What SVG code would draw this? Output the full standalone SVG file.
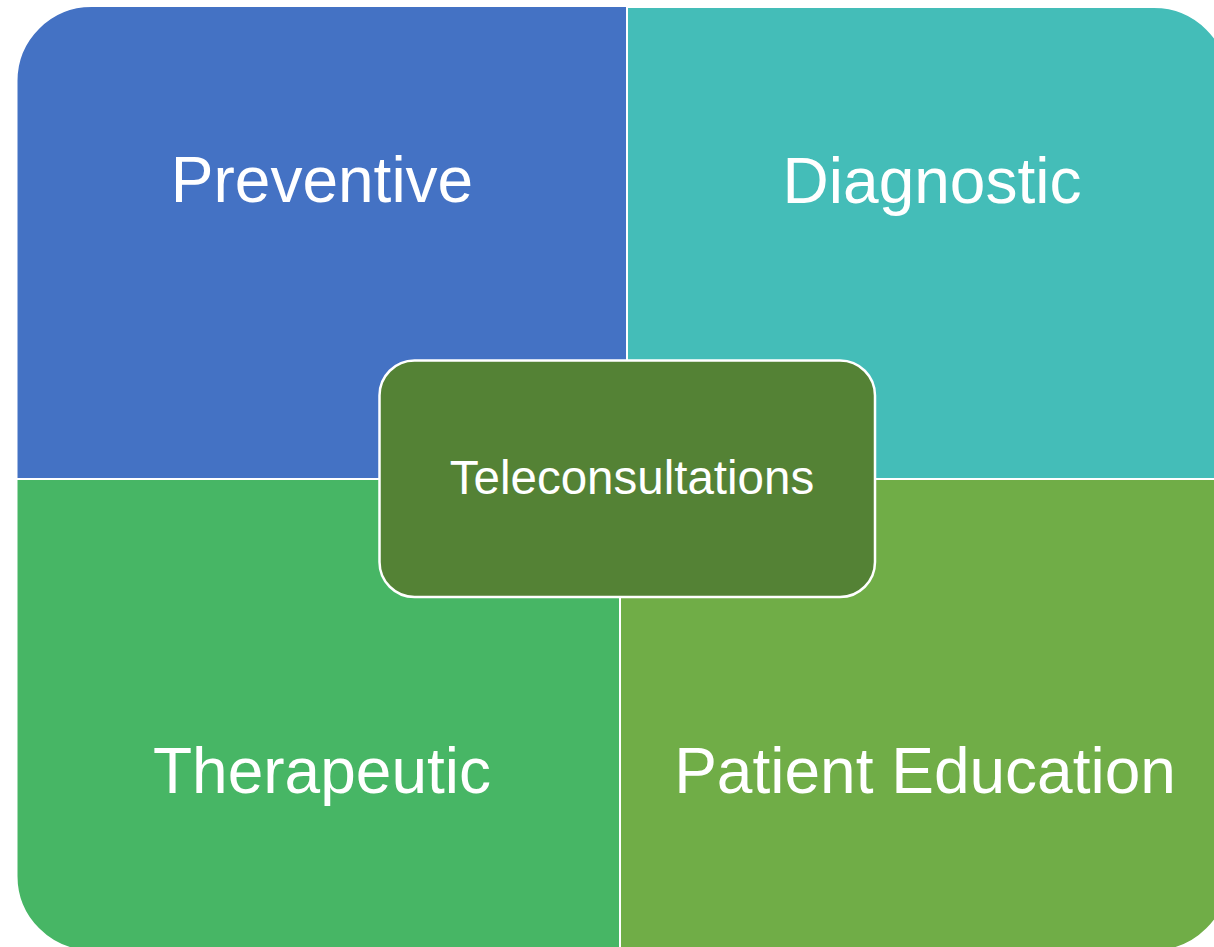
<svg xmlns="http://www.w3.org/2000/svg" width="1214" height="947" viewBox="0 0 1214 947">
  <style>
    .q { stroke: #FFFFFF; stroke-width: 2; }
    .lbl { font-family: "Liberation Sans", Arial, sans-serif; fill: #FFFFFF; text-anchor: middle; }
    .big { font-size: 64px; }
    .mid { font-size: 47.5px; }
  </style>
  <rect x="0" y="0" width="1214" height="947" fill="#FFFFFF"/>
  <g id="preventive">
    <path class="q" fill="#4472C4" d="M16.5,81 A75,75 0 0 1 91.5,6 L627,6 L627,479 L16.5,479 Z"/>
    <text class="lbl big" x="322" y="202">Preventive</text>
  </g>
  <g id="diagnostic">
    <path class="q" fill="#44BDB8" d="M627,7 L1154,7 A75,75 0 0 1 1229,82 L1229,479 L627,479 Z"/>
    <text class="lbl big" x="932" y="203">Diagnostic</text>
  </g>
  <g id="therapeutic">
    <path class="q" fill="#47B665" d="M16.5,479 L620,479 L620,951 L91.5,951 A75,75 0 0 1 16.5,876 Z"/>
    <text class="lbl big" x="322" y="793">Therapeutic</text>
  </g>
  <g id="patient-education">
    <path class="q" fill="#70AD47" d="M620,479 L1229,479 L1229,876 A75,75 0 0 1 1154,951 L620,951 Z"/>
    <text class="lbl big" x="925" y="793">Patient Education</text>
  </g>
  <g id="connectors"></g>
  <g id="teleconsultations">
    <rect x="379.5" y="360.5" width="495.5" height="236.5" rx="35" ry="35" fill="#548235" stroke="#FFFFFF" stroke-width="2.5"/>
    <text class="lbl mid" x="632" y="494">Teleconsultations</text>
  </g>
</svg>
